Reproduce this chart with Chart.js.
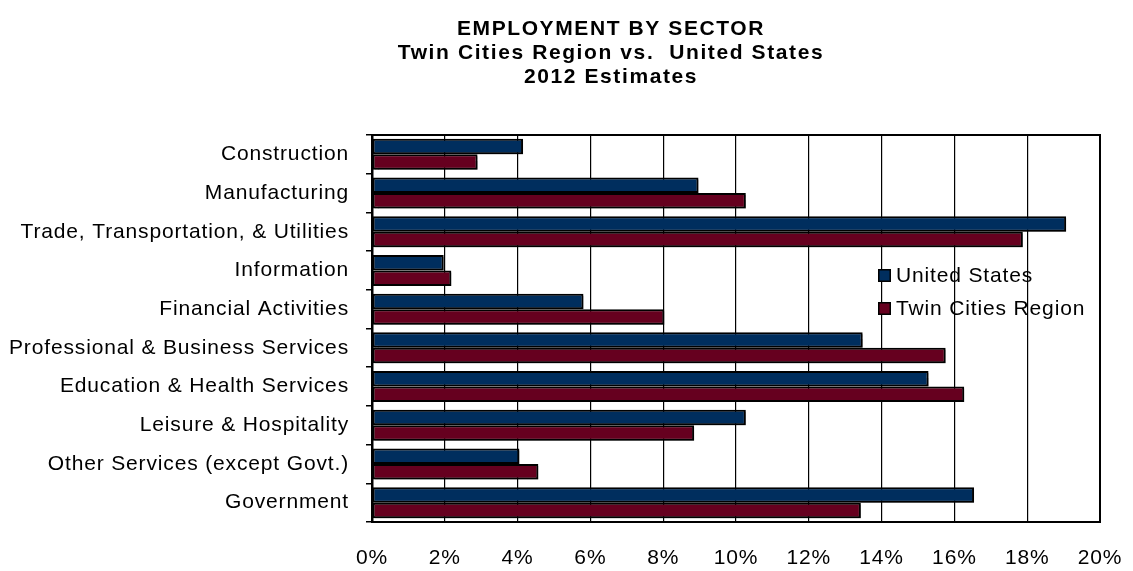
<!DOCTYPE html>
<html>
<head>
<meta charset="utf-8">
<script src="https://cdn.jsdelivr.net/npm/chart.js@4"></script>
<style>
  body { margin: 0; background: #fff; }
  #wrap { width: 1133px; height: 571px; }
</style>
</head>
<body>
<div id="wrap"><canvas id="chartCanvas" width="1133" height="571"></canvas></div>
<script>
// data (percent of employment)
const sectors = [
    'Construction',
    'Manufacturing',
    'Trade, Transportation, & Utilities',
    'Information',
    'Financial Activities',
    'Professional & Business Services',
    'Education & Health Services',
    'Leisure & Hospitality',
    'Other Services (except Govt.)',
    'Government'
];
const usValues = [4.15, 8.97, 19.07, 1.97, 5.81, 13.48, 15.29, 10.27, 4.05, 16.54];
const tcValues = [2.90, 10.27, 17.88, 2.18, 8.03, 15.76, 16.27, 8.85, 4.57, 13.43];
const seriesNames = ['United States', 'Twin Cities Region'];
const titleLines = ['EMPLOYMENT BY SECTOR', 'Twin Cities Region vs.  United States', '2012 Estimates'];

const usColor = '#002e5e';
const tcColor = '#66001f';
const font = 'Arial, "Liberation Sans", sans-serif';

// the old excel text is a bit wider than plain arial
const spacingPlugin = {
    id: 'spacing',
    beforeUpdate(chart) { chart.ctx.letterSpacing = '0.85px'; },
    beforeDraw(chart) { chart.ctx.letterSpacing = '0.85px'; }
};

// title drawn by hand, three bold lines
const titlePlugin = {
    id: 'handTitle',
    afterDraw(chart) {
        const ctx = chart.ctx;
        ctx.save();
        ctx.font = 'bold 21px ' + font;
        ctx.letterSpacing = '1.6px';
        ctx.fillStyle = '#000';
        ctx.textAlign = 'center';
        ctx.textBaseline = 'middle';
        const ys = [29, 53, 77];
        titleLines.forEach((t, i) => ctx.fillText(t, 611, ys[i]));
        ctx.restore();
    }
};

// frame round the plot + bar shadows
const framePlugin = {
    id: 'frame',
    beforeDatasetsDraw(chart) {
        const a = chart.chartArea;
        const ctx = chart.ctx;
        ctx.save();
        ctx.strokeStyle = '#000';
        ctx.lineWidth = 2;
        ctx.strokeRect(a.left, a.top, a.right - a.left, a.bottom - a.top);
        ctx.restore();
        ctx.save();
        ctx.shadowColor = 'rgba(0,0,0,0.4)';
        ctx.shadowOffsetX = 2;
        ctx.shadowOffsetY = 2;
        ctx.shadowBlur = 1;
    },
    afterDatasetsDraw(chart) {
        chart.ctx.restore();
    }
};

// legend sits inside the plot area
const legendPlugin = {
    id: 'insideLegend',
    afterDraw(chart) {
        const ctx = chart.ctx;
        const colors = [usColor, tcColor];
        const x = 878, ys = [275, 308];
        ctx.save();
        ctx.font = '21px ' + font;
        ctx.letterSpacing = '0.85px';
        ctx.textBaseline = 'middle';
        for (let i = 0; i < seriesNames.length; i++) {
            ctx.fillStyle = colors[i];
            ctx.fillRect(x, ys[i] - 6, 13, 13);
            ctx.strokeStyle = '#000';
            ctx.lineWidth = 1.5;
            ctx.strokeRect(x + 0.75, ys[i] - 5.25, 11.5, 11.5);
            ctx.fillStyle = '#000';
            ctx.fillText(seriesNames[i], x + 18, ys[i] + 1);
        }
        ctx.restore();
    }
};

const ctx = document.getElementById('chartCanvas');
const chart = new Chart(ctx, {
    type: 'bar',
    data: {
        labels: sectors,
        datasets: [
            {
                label: seriesNames[0],
                data: usValues,
                backgroundColor: usColor,
                borderColor: '#000',
                borderWidth: 2,
                borderSkipped: false
            },
            {
                label: seriesNames[1],
                data: tcValues,
                backgroundColor: tcColor,
                borderColor: '#000',
                borderWidth: 2,
                borderSkipped: false
            }
        ]
    },
    options: {
        indexAxis: 'y',
        responsive: false,
        animation: false,
        layout: { padding: { left: 0, right: 33, top: 135, bottom: 0 } },
        datasets: {
            bar: { categoryPercentage: 0.8, barPercentage: 1.0 }
        },
        plugins: {
            legend: { display: false },
            tooltip: { enabled: false },
            title: { display: false }
        },
        scales: {
            x: {
                min: 0,
                max: 20,
                ticks: {
                    stepSize: 2,
                    color: '#000',
                    padding: 24,
                    font: { family: font, size: 21 },
                    callback: v => v + '%'
                },
                grid: { color: '#000', lineWidth: 1.2, drawTicks: false },
                border: { color: '#000', width: 2 },
                afterFit(s) {
                    s.height = 49;
                    s.paddingLeft = 0;
                    s.paddingRight = 0;
                }
            },
            y: {
                ticks: {
                    color: '#000',
                    padding: 17,
                    font: { family: font, size: 21 }
                },
                grid: {
                    offset: true,
                    drawOnChartArea: false,
                    tickLength: 6,
                    color: '#000',
                    lineWidth: 1.5
                },
                border: { color: '#000', width: 2.5 },
                afterFit(s) {
                    s.width = 372;
                    s.paddingTop = 0;
                    s.paddingBottom = 0;
                }
            }
        }
    },
    plugins: [spacingPlugin, framePlugin, titlePlugin, legendPlugin]
});
</script>
</body>
</html>
